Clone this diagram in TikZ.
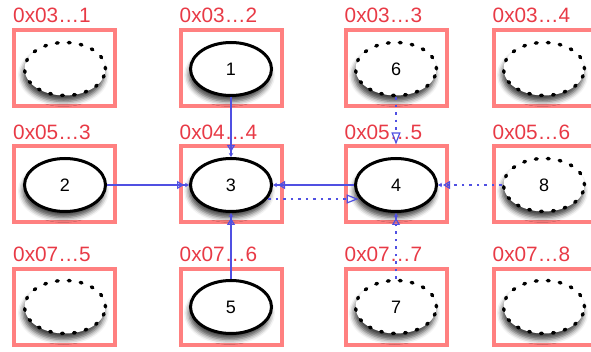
\documentclass[tikz,border=0pt]{standalone}
\usepackage{fontspec}
\setmainfont{Liberation Sans}
\usetikzlibrary{shapes.geometric,shadows.blur,arrows.meta}
\definecolor{boxpink}{RGB}{255,128,128}
\definecolor{labelred}{RGB}{232,58,70}
\definecolor{linkblue}{RGB}{80,80,226}
\tikzset{
  cell/.style={draw=boxpink, line width=4pt, minimum width=101pt, minimum height=76pt, inner sep=0pt},
  obj/.style={ellipse, draw=black, fill=white, line width=3pt, minimum width=81pt, minimum height=53pt,
    inner sep=0pt, font=\fontsize{18}{18}\selectfont,
    blur shadow={shadow xshift=-1.5pt, shadow yshift=-6pt, shadow blur radius=5pt, shadow opacity=75}},
  ghost/.style={obj, line width=3.4pt, dash pattern=on 1.8pt off 10.2pt, line cap=round},
  addr/.style={anchor=base west, inner sep=0pt, text=labelred, font=\fontsize{20.8}{20.8}\selectfont},
  link/.style={draw=linkblue, line width=1.2pt,
    -{Triangle[open,length=7pt,width=8pt,sep=1pt] Stealth[length=4pt,width=4.5pt]}},
  weak/.style={draw=linkblue, line width=1.2pt, dash pattern=on 2.5pt off 5pt},
  weakbig/.style={weak, -{Triangle[open,length=12pt,width=9pt]}},
  weaklink/.style={weak, -{Triangle[open,length=7pt,width=8pt,sep=1pt] Stealth[length=4pt,width=4.5pt]}},
}
\begin{document}
\begin{tikzpicture}[x=1pt,y=-1pt]
\useasboundingbox (0,0) rectangle (591,352);
\clip (0,0) rectangle (591,352);

% grid of cells
\foreach \c/\x in {1/64.5,2/231,3/396,4/544}{
  \foreach \r/\y in {1/68,2/184.5,3/307}{
    \node[cell] (b\r\c) at (\x,\y) {};
  }
}

% objects
\node[ghost] (u1) at (65,69) {};
\node[obj]   (e1) at (231,69) {1};
\node[ghost] (e6) at (396,69) {6};
\node[ghost] (u2) at (544,69) {};
\node[obj]   (e2) at (65,185) {2};
\node[obj]   (e3) at (231,185) {3};
\node[obj]   (e4) at (396,185) {4};
\node[ghost] (e8) at (544,185) {8};
\node[ghost] (u3) at (65,307) {};
\node[obj]   (e5) at (231,307) {5};
\node[ghost] (e7) at (396,307) {7};
\node[ghost] (u4) at (544,307) {};

% addresses
\node[addr] (l11) at ([xshift=1pt,yshift=5pt]b11.north west) {0x03…1};
\node[addr] (l12) at ([xshift=1pt,yshift=5pt]b12.north west) {0x03…2};
\node[addr] (l13) at ([xshift=1pt,yshift=5pt]b13.north west) {0x03…3};
\node[addr] (l14) at ([xshift=1pt,yshift=5pt]b14.north west) {0x03…4};
\node[addr] (l21) at ([xshift=1pt,yshift=5pt]b21.north west) {0x05…3};
\node[addr] (l22) at ([xshift=1pt,yshift=5pt]b22.north west) {0x04…4};
\node[addr] (l23) at ([xshift=1pt,yshift=5pt]b23.north west) {0x05…5};
\node[addr] (l24) at ([xshift=1pt,yshift=5pt]b24.north west) {0x05…6};
\node[addr] (l31) at ([xshift=1pt,yshift=5pt]b31.north west) {0x07…5};
\node[addr] (l32) at ([xshift=1pt,yshift=5pt]b32.north west) {0x07…6};
\node[addr] (l33) at ([xshift=1pt,yshift=5pt]b33.north west) {0x07…7};
\node[addr] (l34) at ([xshift=1pt,yshift=5pt]b34.north west) {0x07…8};

% references
\coordinate (lowrow) at (0,199);
\draw[link] (e1.south) -- (e3.north);
\draw[link] (e2.east) -- (e3.west);
\draw[link] (e4.west) -- (e3.east);
\draw[link] (e5.north) -- (e3.south);
\draw[weakbig] (e3.-19 |- lowrow) -- (e4.199 |- lowrow);
\draw[weakbig] (e6.south) -- (b23.north);
\draw[weaklink] (e8.west) -- (e4.east);
\draw[weaklink] (e7.north) -- (e4.south);
\end{tikzpicture}
\end{document}
